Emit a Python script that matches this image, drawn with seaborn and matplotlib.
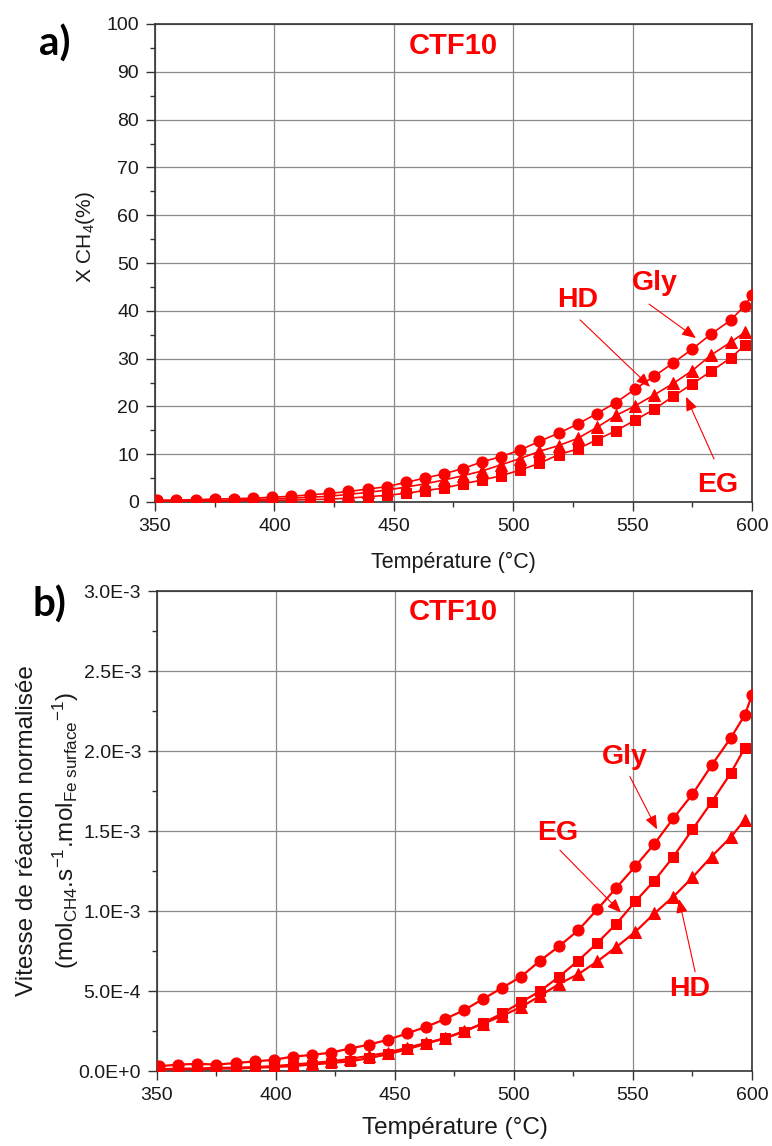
import numpy as np
import pandas as pd
import matplotlib
matplotlib.use("Agg")
import matplotlib.pyplot as plt
import seaborn as sns
from matplotlib.ticker import MultipleLocator, FuncFormatter

# ---------------- data ----------------
temps = [351, 359, 367, 375, 383, 391, 399, 407, 415, 423, 431, 439, 447, 455, 463, 471,
         479, 487, 495, 503, 511, 519, 527, 535, 543, 551, 559, 567, 575, 583, 591, 597]
temps_gly = [351, 359, 367, 375, 383, 391, 399, 407, 415, 423, 431, 439, 447, 455, 463, 471,
             479, 487, 495, 503, 511, 519, 527, 535, 543, 551, 559, 567, 575, 583, 591, 597, 600]

# panel a : CH4 conversion (%)
conv_gly = [0.4, 0.4, 0.5, 0.6, 0.7, 0.8, 1.0, 1.2, 1.5, 1.8, 2.2, 2.7, 3.2, 4.1, 5.0, 5.9,
            7.0, 8.4, 9.5, 10.9, 12.7, 14.4, 16.3, 18.5, 20.8, 23.6, 26.3, 29.1, 32.0, 35.2, 38.0, 41.1, 43.3]
conv_hd = [0.2, 0.2, 0.3, 0.3, 0.4, 0.5, 0.6, 0.8, 1.0, 1.2, 1.6, 2.0, 2.5, 3.1, 3.8, 4.6,
           5.5, 6.5, 7.8, 9.1, 10.6, 11.8, 13.3, 15.6, 18.1, 20.1, 22.4, 24.8, 27.5, 30.8, 33.4, 35.5]
conv_eg = [0.1, 0.1, 0.1, 0.2, 0.2, 0.3, 0.3, 0.4, 0.5, 0.6, 0.8, 1.1, 1.4, 1.8, 2.4, 2.9,
           3.8, 4.6, 5.5, 6.7, 8.1, 9.9, 11.1, 13.0, 14.9, 17.1, 19.4, 22.1, 24.7, 27.4, 30.1, 32.8]

# panel b : normalised reaction rate (mol CH4 / s / mol Fe surface)
rate_gly = [3.0e-5, 4.0e-5, 4.5e-5, 4.0e-5, 5.0e-5, 6.0e-5, 7.0e-5, 9.0e-5, 1.0e-4, 1.15e-4,
            1.4e-4, 1.65e-4, 1.95e-4, 2.35e-4, 2.75e-4, 3.25e-4, 3.8e-4, 4.5e-4, 5.2e-4, 5.9e-4,
            6.9e-4, 7.8e-4, 8.8e-4, 1.01e-3, 1.145e-3, 1.28e-3, 1.42e-3, 1.58e-3, 1.73e-3,
            1.91e-3, 2.08e-3, 2.225e-3, 2.35e-3]
rate_hd = [1.0e-5, 1.5e-5, 1.5e-5, 2.0e-5, 2.0e-5, 2.5e-5, 3.0e-5, 4.0e-5, 5.0e-5, 6.0e-5,
           7.5e-5, 9.5e-5, 1.15e-4, 1.45e-4, 1.75e-4, 2.05e-4, 2.5e-4, 2.95e-4, 3.45e-4, 4.0e-4,
           4.7e-4, 5.45e-4, 6.05e-4, 6.85e-4, 7.75e-4, 8.7e-4, 9.85e-4, 1.09e-3, 1.21e-3,
           1.34e-3, 1.46e-3, 1.57e-3]
rate_eg = [1.0e-5, 1.0e-5, 1.0e-5, 1.5e-5, 1.5e-5, 2.0e-5, 2.5e-5, 3.0e-5, 4.0e-5, 5.0e-5,
           6.0e-5, 8.0e-5, 1.05e-4, 1.35e-4, 1.7e-4, 2.05e-4, 2.45e-4, 3.0e-4, 3.6e-4, 4.3e-4,
           5.0e-4, 5.9e-4, 6.9e-4, 8.0e-4, 9.2e-4, 1.06e-3, 1.19e-3, 1.34e-3, 1.51e-3,
           1.68e-3, 1.86e-3, 2.02e-3]

xticks = [350, 400, 450, 500, 550, 600]

# ---------------- style ----------------
sns.set_style("ticks")
plt.rcParams["font.family"] = ["Liberation Sans", "DejaVu Sans"]
plt.rcParams["mathtext.fontset"] = "custom"
plt.rcParams["mathtext.rm"] = "Liberation Sans"
plt.rcParams["mathtext.it"] = "Liberation Sans:italic"
plt.rcParams["mathtext.bf"] = "Liberation Sans:bold"
plt.rcParams["mathtext.default"] = "regular"

RED = "#ff0000"
INK = "#1a1a1a"

fig = plt.figure(figsize=(7.72, 11.46), dpi=100)
ax_a = fig.add_axes([155 / 772, 1 - 502 / 1146, 597 / 772, 478 / 1146])
ax_b = fig.add_axes([157 / 772, 1 - 1071 / 1146, 595 / 772, 480 / 1146])


def draw_series(ax, xs, ys, marker, ms, lw):
    df = pd.DataFrame({"T": xs, "v": ys})
    sns.lineplot(data=df, x="T", y="v", ax=ax, color=RED, marker=marker,
                 markersize=ms, markeredgecolor=RED, markerfacecolor=RED,
                 linewidth=lw, estimator=None, sort=False, legend=False, zorder=3)


def style_axes(ax):
    ax.set_xlim(350, 600)
    ax.set_xticks(xticks)
    ax.xaxis.set_minor_locator(MultipleLocator(25))
    ax.grid(True, which="major", color="#8a8a8a", linewidth=0.9)
    ax.set_axisbelow(True)
    for s in ax.spines.values():
        s.set_visible(True)
        s.set_color("#333333")
        s.set_linewidth(1.2)
    ax.tick_params(which="major", direction="out", length=6.5, width=1.0,
                   labelsize=14, pad=5, color="#333333", labelcolor=INK)
    ax.tick_params(which="minor", direction="out", length=3.5, width=1.0, color="#333333")


def arrow(ax, start, tip):
    ax.annotate("", xy=tip, xytext=start,
                arrowprops=dict(arrowstyle="-|>,head_length=0.6,head_width=0.25",
                                color=RED, lw=0.8, mutation_scale=14,
                                shrinkA=0, shrinkB=0), zorder=5)


lab_kw = dict(color=RED, fontsize=20.5, fontweight="bold", ha="center", va="center", zorder=6)

# ---------------- panel a ----------------
draw_series(ax_a, temps_gly, conv_gly, "o", 8, 1.2)
draw_series(ax_a, temps, conv_hd, "^", 8.5, 1.2)
draw_series(ax_a, temps, conv_eg, "s", 7, 1.2)
style_axes(ax_a)
ax_a.set_ylim(0, 100)
ax_a.yaxis.set_major_locator(MultipleLocator(10))
ax_a.yaxis.set_minor_locator(MultipleLocator(5))
ax_a.set_xlabel("Température (°C)", fontsize=15.5, color=INK)
ax_a.xaxis.set_label_coords(0.5, -0.105)
ax_a.set_ylabel("X CH$_4$(%)", fontsize=15, color=INK)
ax_a.yaxis.set_label_coords(-0.097, 0.554)

ax_a.text(475, 95.4, "CTF10", color=RED, fontsize=21, fontweight="bold",
          ha="center", va="center")
ax_a.text(559.4, 45.8, "Gly", **lab_kw)
arrow(ax_a, (556.9, 41.4), (576.5, 34.3))
ax_a.text(527.1, 42.3, "HD", **lab_kw)
arrow(ax_a, (528.0, 38.1), (557.3, 24.1))
ax_a.text(585.8, 3.6, "EG", **lab_kw)
arrow(ax_a, (584.1, 9.0), (572.4, 22.0))

# ---------------- panel b ----------------
draw_series(ax_b, temps_gly, rate_gly, "o", 8, 1.6)
draw_series(ax_b, temps, rate_eg, "s", 7, 1.6)
draw_series(ax_b, temps, rate_hd, "^", 8.5, 1.6)
style_axes(ax_b)
ax_b.set_ylim(0, 3.0e-3)
ax_b.yaxis.set_major_locator(MultipleLocator(5e-4))
ax_b.yaxis.set_minor_locator(MultipleLocator(2.5e-4))


def sci_fmt(v, pos):
    s = f"{v:.1E}"
    mant, ex = s.split("E")
    return f"{mant}E{int(ex):+d}"


ax_b.yaxis.set_major_formatter(FuncFormatter(sci_fmt))
ax_b.set_xlabel("Température (°C)", fontsize=17.5, color=INK)
ax_b.xaxis.set_label_coords(0.5, -0.096)
ax_b.set_ylabel("Vitesse de réaction normalisée\n"
                "(mol$_{CH4}$.s$^{-1}$.mol$_{Fe\\ surface}$$^{-1}$)",
                fontsize=17.5, color=INK, linespacing=1.55)
ax_b.yaxis.set_label_coords(-0.128, 0.5)

ax_b.text(474.4, 2.87e-3, "CTF10", color=RED, fontsize=21, fontweight="bold",
          ha="center", va="center")
ax_b.text(546.6, 1.96e-3, "Gly", **lab_kw)
arrow(ax_b, (548.7, 1.84e-3), (560.1, 1.51e-3))
ax_b.text(518.5, 1.49e-3, "EG", **lab_kw)
arrow(ax_b, (519.3, 1.38e-3), (545.0, 0.99e-3))
ax_b.text(574.0, 0.51e-3, "HD", **lab_kw)
arrow(ax_b, (576.1, 0.62e-3), (569.3, 1.075e-3))

# panel letters
fig.text(55 / 772, 1 - 44 / 1146, "a)", fontsize=29, fontweight="bold",
         family=["Lato", "DejaVu Sans"], ha="center", va="center", color="black")
fig.text(49 / 772, 1 - 605 / 1146, "b)", fontsize=29, fontweight="bold",
         family=["Lato", "DejaVu Sans"], ha="center", va="center", color="black")

fig.savefig("out.png", dpi=100)
